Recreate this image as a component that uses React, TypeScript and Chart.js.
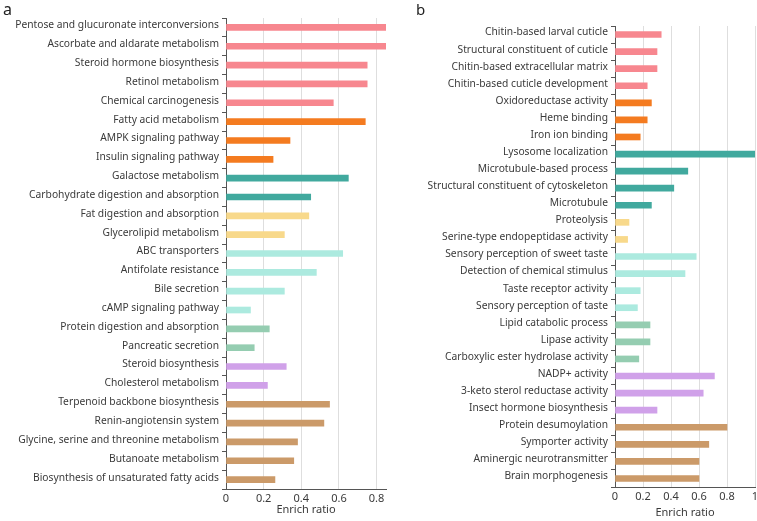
import React, { useEffect, useRef } from "react";
import { Chart, registerables } from "chart.js";

Chart.register(...registerables);

const palette = ["#F7878F", "#F47B20", "#41A99E", "#F8D98B", "#ACEADF", "#95CDB1", "#D0A1E9", "#CB9A69"];

const categoriesA = [
  "Pentose and glucuronate interconversions",
  "Ascorbate and aldarate metabolism",
  "Steroid hormone biosynthesis",
  "Retinol metabolism",
  "Chemical carcinogenesis",
  "Fatty acid metabolism",
  "AMPK signaling pathway",
  "Insulin signaling pathway",
  "Galactose metabolism",
  "Carbohydrate digestion and absorption",
  "Fat digestion and absorption",
  "Glycerolipid metabolism",
  "ABC transporters",
  "Antifolate resistance",
  "Bile secretion",
  "cAMP signaling pathway",
  "Protein digestion and absorption",
  "Pancreatic secretion",
  "Steroid biosynthesis",
  "Cholesterol metabolism",
  "Terpenoid backbone biosynthesis",
  "Renin-angiotensin system",
  "Glycine, serine and threonine metabolism",
  "Butanoate metabolism",
  "Biosynthesis of unsaturated fatty acids",
];
const valuesA = [0.85, 0.85, 0.75, 0.75, 0.57, 0.74, 0.34, 0.25, 0.65, 0.45, 0.44, 0.31, 0.62, 0.48, 0.31, 0.13, 0.23, 0.15, 0.32, 0.22, 0.55, 0.52, 0.38, 0.36, 0.26];
const groupA = [0, 0, 0, 0, 0, 1, 1, 1, 2, 2, 3, 3, 4, 4, 4, 4, 5, 5, 6, 6, 7, 7, 7, 7, 7];

const categoriesB = [
  "Chitin-based larval cuticle",
  "Structural constituent of cuticle",
  "Chitin-based extracellular matrix",
  "Chitin-based cuticle development",
  "Oxidoreductase activity",
  "Heme binding",
  "Iron ion binding",
  "Lysosome localization",
  "Microtubule-based process",
  "Structural constituent of cytoskeleton",
  "Microtubule",
  "Proteolysis",
  "Serine-type endopeptidase activity",
  "Sensory perception of sweet taste",
  "Detection of chemical stimulus",
  "Taste receptor activity",
  "Sensory perception of taste",
  "Lipid catabolic process",
  "Lipase activity",
  "Carboxylic ester hydrolase activity",
  "NADP+ activity",
  "3-keto sterol reductase activity",
  "Insect hormone biosynthesis",
  "Protein desumoylation",
  "Symporter activity",
  "Aminergic neurotransmitter",
  "Brain morphogenesis",
];
const valuesB = [0.33, 0.3, 0.3, 0.23, 0.26, 0.23, 0.18, 1.0, 0.52, 0.42, 0.26, 0.1, 0.09, 0.58, 0.5, 0.18, 0.16, 0.25, 0.25, 0.17, 0.71, 0.63, 0.3, 0.8, 0.67, 0.6, 0.6];
const groupB = [0, 0, 0, 0, 1, 1, 1, 2, 2, 2, 2, 3, 3, 4, 4, 4, 4, 5, 5, 5, 6, 6, 6, 7, 7, 7, 7];

const xTicks = [0, 0.2, 0.4, 0.6, 0.8, 1];

const FONT = "'Noto Sans', 'Open Sans', sans-serif";

function makeConfig(
  labels: string[],
  values: number[],
  groups: number[],
  xMax: number,
  yWidth: number,
  padTop: number,
  padRight: number,
  xHeight: number,
  titleBottom: number
): any {
  return {
    type: "bar",
    data: {
      labels,
      datasets: [
        {
          data: values,
          backgroundColor: groups.map((g) => palette[g]),
          barThickness: 6,
          borderWidth: 0,
        },
      ],
    },
    options: {
      indexAxis: "y",
      animation: false,
      responsive: false,
      layout: { padding: { left: 0, right: padRight, top: padTop, bottom: 0 } },
      plugins: { legend: { display: false }, tooltip: { enabled: false } },
      scales: {
        y: {
          type: "category",
          afterFit: (s: any) => {
            s.width = yWidth;
            s.paddingTop = 0;
            s.paddingBottom = 0;
          },
          border: { display: true, color: "#555", width: 1 },
          grid: { offset: true, drawOnChartArea: false, drawTicks: true, tickLength: 4, color: "#555" },
          ticks: {
            autoSkip: false,
            padding: 3,
            labelOffset: -2,
            color: "#3a3a3a",
            font: { family: FONT, size: 10.25 },
          },
        },
        x: {
          type: "linear",
          min: 0,
          max: xMax,
          afterBuildTicks: (s: any) => {
            s.ticks = xTicks.filter((v) => v <= xMax + 1e-9).map((v) => ({ value: v }));
          },
          afterFit: (s: any) => {
            s.height = xHeight;
            s.paddingLeft = 0;
            s.paddingRight = 0;
          },
          border: { display: true, color: "#555", width: 1 },
          grid: { color: "#dedede", drawTicks: false },
          ticks: {
            padding: 3,
            color: "#3a3a3a",
            font: { family: FONT, size: 11 },
            callback: (v: any) => String(+Number(v).toFixed(1)),
          },
          title: {
            display: true,
            text: "Enrich ratio",
            color: "#3a3a3a",
            font: { family: FONT, size: 11 },
            padding: { top: 0, bottom: titleBottom },
          },
        },
      },
    },
  };
}

function Panel(props: { cfg: () => any; width: number; height: number; left: number }) {
  const ref = useRef<HTMLCanvasElement | null>(null);
  useEffect(() => {
    if (!ref.current) return;
    const chart = new Chart(ref.current, props.cfg());
    return () => chart.destroy();
  }, []);
  return (
    <canvas
      ref={ref}
      width={props.width}
      height={props.height}
      style={{ position: "absolute", left: props.left, top: 0, width: props.width, height: props.height }}
    />
  );
}

export default function App() {
  return (
    <div style={{ position: "fixed", left: 0, top: 0, width: 757, height: 521, background: "#fff", fontFamily: FONT }}>
      <Panel left={0} width={390} height={521} cfg={() => makeConfig(categoriesA, valuesA, groupA, 0.85, 226, 18, 4, 32, 5)} />
      <Panel left={392} width={365} height={521} cfg={() => makeConfig(categoriesB, valuesB, groupB, 1, 223, 26, 2, 34, 2)} />
      <div style={{ position: "absolute", left: 3, top: -2, fontSize: 16, color: "#222" }}>a</div>
      <div style={{ position: "absolute", left: 416, top: -1, fontSize: 15, color: "#222" }}>b</div>
    </div>
  );
}
